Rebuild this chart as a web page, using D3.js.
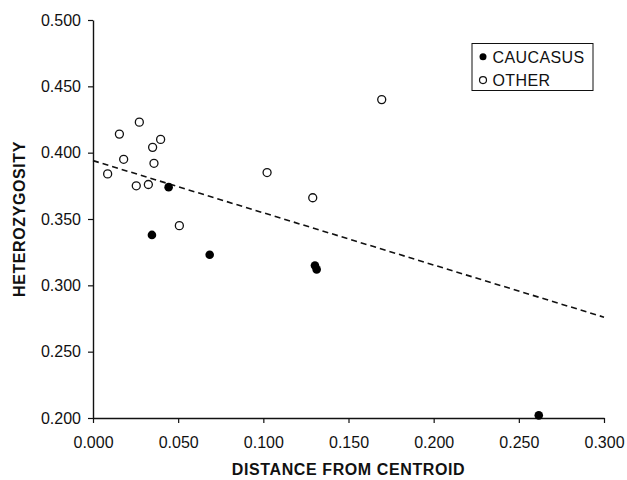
<!DOCTYPE html>
<html>
<head>
<meta charset="utf-8">
<script src="https://cdn.jsdelivr.net/npm/d3@7"></script>
<style>
  body { margin: 0; background: #fff; }
  svg text { font-family: "Liberation Sans", Arial, sans-serif; fill: #111; }
</style>
</head>
<body>
<div class="chartView"></div>
<script>
// values
var caucasusX = [0.0444, 0.0346, 0.0685, 0.1303, 0.1313, 0.2617];
var caucasusY = [0.374, 0.338, 0.323, 0.315, 0.312, 0.202];
var otherX = [0.0086, 0.0155, 0.0272, 0.018, 0.035, 0.0397, 0.0358, 0.0254, 0.0325, 0.0507, 0.1022, 0.129, 0.1695];
var otherY = [0.384, 0.414, 0.423, 0.395, 0.404, 0.410, 0.392, 0.375, 0.376, 0.345, 0.385, 0.366, 0.440];
// dashed trend line, end points
var trendX = [0, 0.3];
var trendY = [0.394, 0.276];
var xTicks = [0, 0.05, 0.1, 0.15, 0.2, 0.25, 0.3];
var yTicks = [0.2, 0.25, 0.3, 0.35, 0.4, 0.45, 0.5];
var seriesNames = ["CAUCASUS", "OTHER"];

var width = 627, height = 480;
var margin = { top: 20, right: 23, bottom: 62, left: 93 };

var svg = d3.select(".chartView").append("svg")
    .attr("width", width)
    .attr("height", height);

var x = d3.scaleLinear().domain([0, 0.3]).range([margin.left, width - margin.right]);
var y = d3.scaleLinear().domain([0.2, 0.5]).range([height - margin.bottom, margin.top]);
var fmt = d3.format(".3f");

// axes
var xAxis = svg.append("g")
    .attr("transform", "translate(0," + y(0.2) + ")")
    .call(d3.axisBottom(x).tickValues(xTicks).tickFormat(fmt).tickSize(5).tickSizeOuter(0).tickPadding(14));
var yAxis = svg.append("g")
    .attr("transform", "translate(" + x(0) + ",0)")
    .call(d3.axisLeft(y).tickValues(yTicks).tickFormat(fmt).tickSize(5).tickSizeOuter(0).tickPadding(7));

[xAxis, yAxis].forEach(function(ax) {
  ax.select(".domain").attr("stroke", "#111").attr("stroke-width", 1.4);
  ax.selectAll(".tick line").attr("stroke", "#111").attr("stroke-width", 1.2);
  ax.selectAll(".tick text")
    .style("font-family", '"Liberation Sans", Arial, sans-serif')
    .style("font-size", "16px")
    .attr("fill", "#111");
});

// axis titles
svg.append("text")
    .attr("x", (x(0) + x(0.3)) / 2)
    .attr("y", 475)
    .attr("text-anchor", "middle")
    .style("font-size", "16px")
    .style("font-weight", "bold")
    .style("letter-spacing", "0.6px")
    .text("DISTANCE FROM CENTROID");

svg.append("text")
    .attr("transform", "translate(25," + ((y(0.2) + y(0.5)) / 2) + ") rotate(-90)")
    .attr("text-anchor", "middle")
    .style("font-size", "16px")
    .style("font-weight", "bold")
    .style("letter-spacing", "0.6px")
    .text("HETEROZYGOSITY");

// trend line
var trend = trendX.map(function(d, i) { return [d, trendY[i]]; });
svg.append("path")
    .datum(trend)
    .attr("fill", "none")
    .attr("stroke", "#111")
    .attr("stroke-width", 1.6)
    .attr("stroke-dasharray", "6,4")
    .attr("d", d3.line().x(function(d) { return x(d[0]); }).y(function(d) { return y(d[1]); }));

// points
var other = otherX.map(function(d, i) { return { x: d, y: otherY[i] }; });
var cauc = caucasusX.map(function(d, i) { return { x: d, y: caucasusY[i] }; });

svg.selectAll(".other")
    .data(other)
    .enter().append("circle")
    .attr("class", "other")
    .attr("cx", function(d) { return x(d.x); })
    .attr("cy", function(d) { return y(d.y); })
    .attr("r", 4)
    .attr("fill", "#fff")
    .attr("stroke", "#111")
    .attr("stroke-width", 1.3);

svg.selectAll(".cauc")
    .data(cauc)
    .enter().append("circle")
    .attr("class", "cauc")
    .attr("cx", function(d) { return x(d.x); })
    .attr("cy", function(d) { return y(d.y); })
    .attr("r", 4.3)
    .attr("fill", "#000");

// legend
var legend = svg.append("g").attr("transform", "translate(472,43.5)");
legend.append("rect")
    .attr("width", 121)
    .attr("height", 47)
    .attr("fill", "#fff")
    .attr("stroke", "#111")
    .attr("stroke-width", 1);

seriesNames.forEach(function(name, i) {
  var cy = 13.3 + i * 23.3;
  legend.append("circle")
    .attr("cx", 11)
    .attr("cy", cy)
    .attr("r", 3.5)
    .attr("fill", i === 0 ? "#000" : "#fff")
    .attr("stroke", "#111")
    .attr("stroke-width", i === 0 ? 0 : 1.2);
  legend.append("text")
    .attr("x", 20.5)
    .attr("y", cy + 6)
    .style("font-size", "16px")
    .style("letter-spacing", "0.4px")
    .text(name);
});
</script>
</body>
</html>
